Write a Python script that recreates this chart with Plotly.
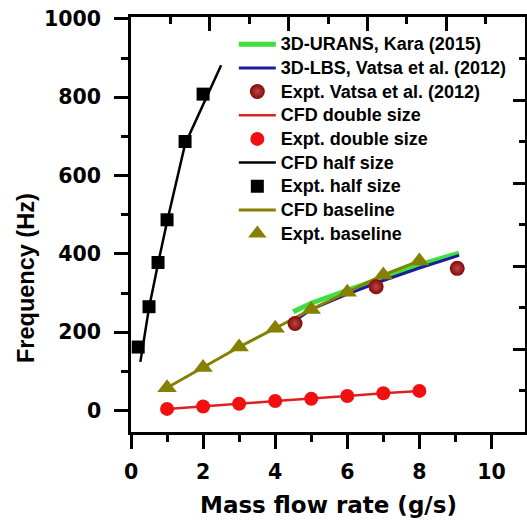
import plotly.graph_objects as go

# ---------------- data ----------------
urans_x = [4.5, 5.0, 6.0, 7.0, 8.0, 9.1]
urans_y = [252, 274, 307, 340, 372, 402]

lbs_x = [4.55, 5.0, 6.0, 7.0, 8.0, 9.1]
lbs_y = [230, 258, 297, 332, 364, 396]

vatsa_x = [4.55, 6.8, 9.05]
vatsa_y = [222, 316, 363]

double_x = [1, 2, 3, 4, 5, 6, 7, 8]
cfd_double_y = [4, 10, 17, 24, 30, 37, 44, 50]
expt_double_y = [4, 10, 17, 24, 30, 37, 44, 50]

cfd_half_x = [0.26, 0.5, 0.75, 1.0, 1.5, 2.0, 2.5]
cfd_half_y = [124, 262, 375, 482, 680, 781, 882]
expt_half_x = [0.2, 0.5, 0.75, 1.0, 1.5, 2.0]
expt_half_y = [162, 265, 378, 487, 687, 808]

base_x = [1, 2, 3, 4, 5, 6, 7, 8]
cfd_base_y = [58, 110, 162, 210, 258, 302, 346, 382]
expt_base_y = [58, 110, 162, 210, 258, 302, 346, 382]

x_ticks = [0, 2, 4, 6, 8, 10]
y_ticks = [0, 200, 400, 600, 800, 1000]

GREEN = "#3de03d"
BLUE = "#1c1c9c"
DARKRED = "#860808"
RED = "#f01010"
OLIVE = "#858000"


def lbl(s):
    return '<span style="font-size:18px">' + s + "</span>"


fig = go.Figure()

fig.add_trace(go.Scatter(x=urans_x, y=urans_y, mode="lines", name=lbl("3D-URANS, Kara (2015)"),
                         line=dict(color=GREEN, width=5), legendrank=1))
fig.add_trace(go.Scatter(x=lbs_x, y=lbs_y, mode="lines", name=lbl("3D-LBS, Vatsa et al. (2012)"),
                         line=dict(color=BLUE, width=3), legendrank=2))
fig.add_trace(go.Scatter(x=double_x, y=cfd_double_y, mode="lines", name=lbl("CFD double size"),
                         line=dict(color="#e02020", width=2.5), legendrank=4))
fig.add_trace(go.Scatter(x=cfd_half_x, y=cfd_half_y, mode="lines", name=lbl("CFD half size"),
                         line=dict(color="black", width=2.5), legendrank=6))
fig.add_trace(go.Scatter(x=base_x, y=cfd_base_y, mode="lines", name=lbl("CFD baseline"),
                         line=dict(color=OLIVE, width=3), legendrank=8))
fig.add_trace(go.Scatter(x=double_x, y=expt_double_y, mode="markers", name=lbl("Expt. double size"),
                         marker=dict(color=RED, size=14, symbol="circle"), legendrank=5))
fig.add_trace(go.Scatter(x=expt_half_x, y=expt_half_y, mode="markers", name=lbl("Expt. half size"),
                         marker=dict(color="black", size=13, symbol="square"), legendrank=7))
fig.add_trace(go.Scatter(x=base_x, y=expt_base_y, mode="markers", name=lbl("Expt. baseline"),
                         marker=dict(color=OLIVE, size=17, symbol="triangle-up"), legendrank=9))
fig.add_trace(go.Scatter(x=vatsa_x, y=vatsa_y, mode="markers", name=lbl("Expt. Vatsa et al. (2012)"),
                         marker=dict(color=DARKRED, size=15, symbol="circle",
                                     gradient=dict(type="radial", color="#b84848")),
                         legendrank=3))
# dummy trace to activate the mirrored top/right axes
fig.add_trace(go.Scatter(x=[None], y=[None], xaxis="x2", yaxis="y2", showlegend=False,
                         hoverinfo="skip"))

tickfont = dict(family="DejaVu Sans", size=20.5, color="black", weight="bold")

fig.update_layout(
    width=527, height=521,
    margin=dict(l=131, r=2, t=17, b=89),
    paper_bgcolor="white", plot_bgcolor="white",
    showlegend=True,
    legend=dict(x=0.261, y=0.975, xanchor="left", yanchor="top",
                bgcolor="rgba(0,0,0,0)", borderwidth=0,
                font=dict(family="Liberation Sans", size=15.9, color="black", weight="bold"),
                itemwidth=37, tracegroupgap=0),
    xaxis=dict(range=[0, 10.93], tickvals=x_ticks, ticktext=[str(v) for v in x_ticks],
               ticks="outside", ticklen=14, tickwidth=2.5, tickcolor="black",
               showline=True, linewidth=2.5, linecolor="black", showgrid=False, zeroline=False,
               tickfont=tickfont, ticklabelstandoff=6,
               minor=dict(dtick=1, tick0=0, ticks="outside", ticklen=7, tickwidth=2.5,
                          tickcolor="black", showgrid=False)),
    yaxis=dict(range=[-55, 1005], tickvals=y_ticks, ticktext=[str(v) for v in y_ticks],
               ticks="outside", ticklen=14, tickwidth=2.5, tickcolor="black",
               showline=True, linewidth=2.5, linecolor="black", showgrid=False, zeroline=False,
               tickfont=tickfont, ticklabelstandoff=9,
               minor=dict(dtick=100, tick0=0, ticks="outside", ticklen=7, tickwidth=2.5,
                          tickcolor="black", showgrid=False)),
    xaxis2=dict(range=[0, 10], overlaying="x", side="top", anchor="y2",
                dtick=2, tick0=0, ticks="inside", ticklen=14, tickwidth=2.5, tickcolor="black",
                showticklabels=False, showline=True, linewidth=2.5, linecolor="black",
                showgrid=False, zeroline=False,
                minor=dict(dtick=1, tick0=0, ticks="inside", ticklen=7, tickwidth=2.5,
                           tickcolor="black", showgrid=False)),
    yaxis2=dict(range=[0, 1000], overlaying="y", side="right", anchor="x2",
                dtick=200, tick0=0, ticks="inside", ticklen=12, tickwidth=2.5, tickcolor="black",
                showticklabels=False, showline=True, linewidth=2.5, linecolor="black",
                showgrid=False, zeroline=False,
                minor=dict(dtick=100, tick0=0, ticks="inside", ticklen=6, tickwidth=2.5,
                           tickcolor="black", showgrid=False)),
    annotations=[
        dict(text="Mass flow rate (g/s)", xref="paper", yref="paper", x=0.5, y=-0.175,
             xanchor="center", yanchor="middle", showarrow=False,
             font=dict(family="DejaVu Sans", size=23, color="black", weight="bold")),
        dict(text="Frequency (Hz)", xref="paper", yref="paper", x=-0.265, y=0.37,
             xanchor="center", yanchor="middle", showarrow=False, textangle=-90,
             font=dict(family="Liberation Sans", size=23.5, color="black", weight="bold")),
    ],
)

fig.write_html("out.html")
